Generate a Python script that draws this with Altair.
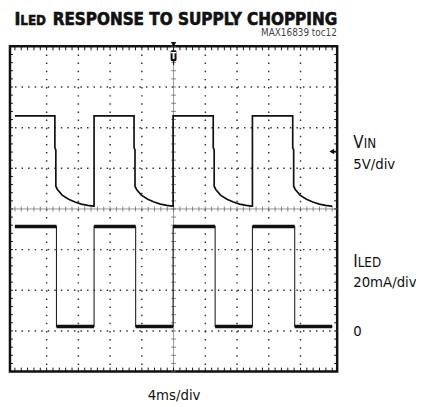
import altair as alt
import pandas as pd
import numpy as np

# ---- text ----
TITLE_I = "I"
TITLE_LED = "LED"
TITLE_REST = "RESPONSE TO SUPPLY CHOPPING"
NOTE = "MAX16839 toc12"
X_LABEL = "4ms/div"
CH1 = ["V", "IN", "5V/div"]
CH2 = ["I", "LED", "20mA/div", "0"]

# ---- traces (time in ms, 4 ms/div; level in divisions from bottom, 8 div) ----
vin_fall = [5.04, 15.02, 25.00, 35.02]
vin_rise = [9.98, 19.94, 29.94]
vin_high = 6.29
decay_dt = [0.0, 0.0, 0.12, 0.12, 0.32, 0.92, 1.73, 2.53, 3.33, 4.14, 4.86]
decay_v = [6.29, 5.51, 5.45, 4.56, 4.48, 4.34, 4.24, 4.17, 4.12, 4.09, 4.07]

iled_edges = [5.24, 9.98, 15.22, 19.94, 25.24, 29.94, 35.27]
iled_high = 3.57
iled_low = 1.11

T_END = 40.0
T_CENTER = 20.0
Y_CENTER = 4.0

# build VIN line
vt, vv = [0.0], [vin_high]
for k, f in enumerate(vin_fall):
    for dt, v in zip(decay_dt, decay_v):
        vt.append(f + dt)
        vv.append(v)
    if k < len(vin_rise):
        r = vin_rise[k]
        vt += [r, r]
        vv += [decay_v[-1], vin_high]
    else:
        vt.append(T_END)
        vv.append(decay_v[-1])
vin = pd.DataFrame({"t": vt, "v": vv, "i": range(len(vt))})

# build ILED line + plateaus
it, iv = [0.0], [iled_high]
levels = [iled_high, iled_low]
seg_x, seg_x2, seg_y = [], [], []
prev = 0.0
for k, e in enumerate(iled_edges):
    cur = levels[k % 2]
    nxt = levels[(k + 1) % 2]
    it += [e, e]
    iv += [cur, nxt]
    seg_x.append(prev); seg_x2.append(e); seg_y.append(cur)
    prev = e
last = levels[len(iled_edges) % 2]
it.append(T_END); iv.append(last)
seg_x.append(prev); seg_x2.append(T_END); seg_y.append(last)
iled = pd.DataFrame({"t": it, "v": iv, "i": range(len(it))})
plate = pd.DataFrame({"x": seg_x, "x2": seg_x2, "y": seg_y})

# ---- scope graticule ----
xs = alt.Scale(domain=[0, 40], nice=False, zero=False)
ys = alt.Scale(domain=[0, 8], nice=False, zero=False)
FONT = "DejaVu Sans Condensed, sans-serif"
INK = "#111111"

gx = pd.DataFrame({"x": [4, 8, 12, 16, 24, 28, 32, 36]})
gy = pd.DataFrame({"y": [1, 2, 3, 5, 6, 7]})
minor_x = pd.DataFrame({"x": np.round(np.arange(0, 40.001, 0.8), 3)})
minor_x["yc"] = Y_CENTER
minor_y = pd.DataFrame({"y": np.round(np.arange(0, 8.001, 0.2), 3)})
minor_y["xc"] = T_CENTER
center = pd.DataFrame({"xc": [T_CENTER], "yc": [Y_CENTER]})

X = lambda f: alt.X(f, scale=xs, axis=None)
Y = lambda f: alt.Y(f, scale=ys, axis=None)

grid_v = alt.Chart(gx).mark_rule(color="#333", strokeWidth=1.5, strokeDash=[1.5, 6.75]).encode(x=X("x:Q"))
grid_h = alt.Chart(gy).mark_rule(color="#333", strokeWidth=1.5, strokeDash=[1.5, 5.14]).encode(y=Y("y:Q"))
center_v = alt.Chart(center).mark_rule(color="#999", strokeWidth=1).encode(x=X("xc:Q"))
center_h = alt.Chart(center).mark_rule(color="#999", strokeWidth=1).encode(y=Y("yc:Q"))
tick_cx = alt.Chart(minor_x).mark_tick(orient="vertical", size=5, thickness=1, color="#555").encode(
    x=X("x:Q"), y=Y("yc:Q"))
tick_cy = alt.Chart(minor_y).mark_tick(orient="horizontal", size=5, thickness=1, color="#555").encode(
    y=Y("y:Q"), x=X("xc:Q"))
tick_top = alt.Chart(minor_x).mark_rule(color=INK, strokeWidth=1).encode(
    x=X("x:Q"), y=alt.value(0), y2=alt.value(4))
tick_bot = alt.Chart(minor_x).mark_rule(color=INK, strokeWidth=1).encode(
    x=X("x:Q"), y=alt.value(326), y2=alt.value(330))
tick_left = alt.Chart(minor_y).mark_rule(color=INK, strokeWidth=1).encode(
    y=Y("y:Q"), x=alt.value(0), x2=alt.value(3))
tick_right = alt.Chart(minor_y).mark_rule(color=INK, strokeWidth=1).encode(
    y=Y("y:Q"), x=alt.value(329), x2=alt.value(332))

# ---- traces ----
vin_line = alt.Chart(vin).mark_line(color=INK, strokeWidth=1.7).encode(
    x=X("t:Q"), y=Y("v:Q"), order="i:Q")
iled_line = alt.Chart(iled).mark_line(color="#222", strokeWidth=1.1).encode(
    x=X("t:Q"), y=Y("v:Q"), order="i:Q")
iled_plate = alt.Chart(plate).mark_rule(color=INK, strokeWidth=3.6).encode(
    x=X("x:Q"), x2="x2:Q", y=Y("y:Q"))

# ---- markers ----
trig_tri = alt.Chart(center).mark_point(shape="triangle-down", filled=True, size=30, color=INK, opacity=1).encode(
    x=X("xc:Q"), y=alt.value(-2))
trig_box = alt.Chart(center).mark_bar(color=INK, width=6, cornerRadius=1.5).encode(
    x=X("xc:Q"), y=alt.value(4), y2=alt.value(15))
trig_t = alt.Chart(center).mark_text(text="T", color="white", fontSize=9, fontWeight="bold", font="DejaVu Sans").encode(
    x=X("xc:Q"), y=alt.value(10))
trig_stub = alt.Chart(center).mark_rule(color=INK, strokeWidth=1).encode(
    x=X("xc:Q"), y=alt.value(15), y2=alt.value(19))
gnd_arrow = alt.Chart(center).mark_point(shape="triangle-left", filled=True, size=32, color=INK, opacity=1).encode(
    x=alt.value(326.5), y=alt.value(106.7))
gnd_stub = alt.Chart(center).mark_rule(color=INK, strokeWidth=1.4).encode(
    x=alt.value(326), x2=alt.value(331), y=alt.value(106.7))

def txt(s, x, y, size, weight="normal", align="left", color=INK, font=FONT, stroke=0):
    kw = dict(text=s, align=align, baseline="alphabetic", fontSize=size,
              fontWeight=weight, font=font, color=color)
    if stroke:
        kw.update(stroke=color, strokeWidth=stroke)
    return alt.Chart(center).mark_text(**kw).encode(x=alt.value(x), y=alt.value(y))

texts = [
    txt(TITLE_I, 4.7, -21.3, 18, "bold", stroke=0.6),
    txt(TITLE_LED, 10.5, -21.3, 13.5, "bold", stroke=0.5),
    txt(TITLE_REST, 43.3, -21.3, 17.2, "bold", stroke=0.6),
    txt(NOTE, 331.7, -10.5, 10, align="right", color="#444"),
    txt(CH1[0], 348.3, 103.3, 17),
    txt(CH1[1], 359, 103.3, 13.5),
    txt(CH1[2], 348.3, 124.3, 15),
    txt(CH2[0], 348.3, 224.3, 17),
    txt(CH2[1], 352.8, 224.3, 13.5),
    txt(CH2[2], 348.3, 244.3, 15),
    txt(CH2[3], 348.3, 294.3, 15),
    txt(X_LABEL, 166.5, 359.3, 15, align="center"),
]

chart = alt.layer(
    grid_v, grid_h, center_v, center_h, tick_cx, tick_cy,
    tick_top, tick_bot, tick_left, tick_right,
    vin_line, iled_line, iled_plate,
    trig_tri, trig_box, trig_t, trig_stub, gnd_arrow, gnd_stub,
    *texts,
).properties(
    width=332, height=330,
    padding={"left": 2, "top": 36, "right": 80, "bottom": 31},
    autosize=alt.AutoSizeParams(type="none"),
).configure_view(stroke=INK, strokeWidth=2.5)

chart.save("out.html", embed_options={"renderer": "svg", "actions": False})
